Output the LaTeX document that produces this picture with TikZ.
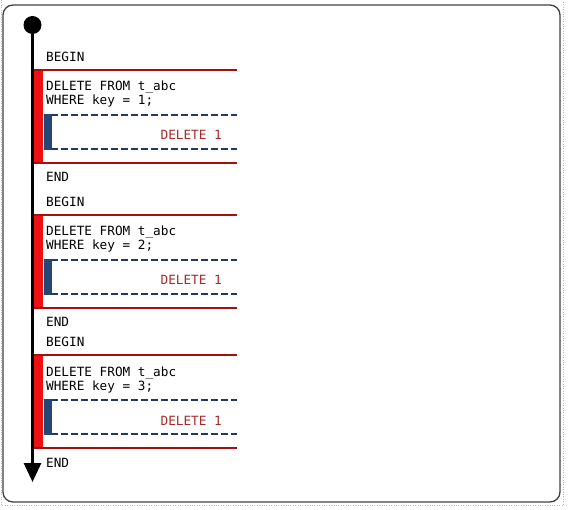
\documentclass[tikz,border=0pt]{standalone}
\usepackage{fontspec}
\setmonofont{DejaVu Sans Mono}
\usetikzlibrary{arrows.meta}
\definecolor{barred}{HTML}{EE1111}
\definecolor{linered}{HTML}{A50F0F}
\definecolor{txtred}{HTML}{A52A2A}
\definecolor{dashblue}{HTML}{1F3B63}
\definecolor{barblue}{HTML}{234878}
\tikzset{
  sql/.style={font=\ttfamily\fontsize{12.7}{14}\selectfont, inner sep=0pt, anchor=base west},
  rule/.style={linered, line width=2pt},
  dashrule/.style={dashblue, line width=1.8pt, dash pattern=on 7pt off 3pt}
}
\begin{document}
\begin{tikzpicture}[x=1pt,y=-1pt]
    \useasboundingbox (0,0) rectangle (570,510);

    % draw the frame
    \draw[gray!55, dotted] (1,0) -- (1,505) -- (563,505) -- (563,0);
    \draw[black!75, line width=1.3pt, rounded corners=10pt] (3,5) rectangle (560,502);

    % draw the three transactions
    \foreach \k/\t in {1/70,2/214.7,3/355}{
        \fill[barred] (33.5,\t) rectangle (43,\t+93);
        \draw[rule] (33,\t) -- (237,\t);
        \draw[rule] (33,\t+93) -- (237,\t+93);

        %statement
        \node[sql] (begin\k) at (46,\t-8) {BEGIN};
        \node[sql] (del\k) at (46,\t+21) {DELETE FROM t\_abc};
        \node[sql] (where\k) at (46,\t+35) {WHERE key = \k;};

        %result
        \fill[barblue] (44,\t+44) rectangle (51.5,\t+80);
        \draw[dashrule] (51,\t+45) -- (237,\t+45);
        \draw[dashrule] (51,\t+79) -- (237,\t+79);
        \node[sql, anchor=base east, text=txtred] (res\k) at (222,\t+70) {DELETE 1};

        \node[sql] (end\k) at (46,\t+112) {END};
    }

    % draw the time line
    \node[circle, fill=black, minimum size=18pt, inner sep=0pt] (start) at (32.5,25) {};
    \coordinate (stop) at (32.5,482);
    \draw[line width=3pt, -{Triangle[width=17pt,length=19pt]}] (start) -- (stop);

\end{tikzpicture}
\end{document}
